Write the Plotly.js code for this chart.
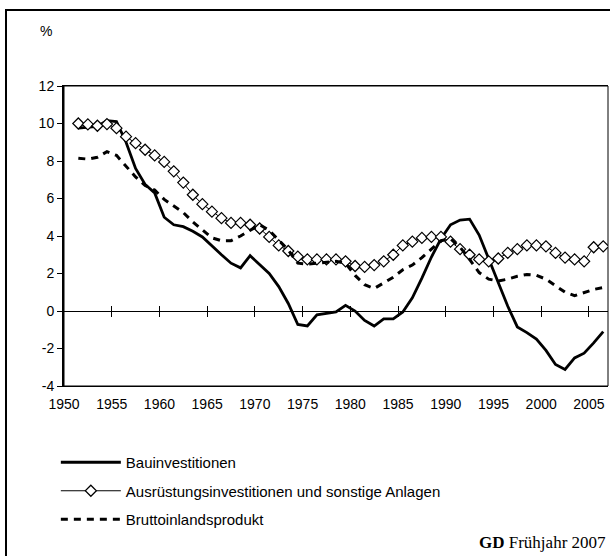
<!DOCTYPE html>
<html>
<head>
<meta charset="utf-8">
<script src="https://cdn.plot.ly/plotly-3.0.1.min.js"></script>
<style>
  html, body { margin: 0; padding: 0; background: #fff; }
  #wrap { position: relative; width: 610px; height: 556px; overflow: hidden; }
  #chart { position: absolute; left: 0; top: 0; width: 610px; height: 556px; }
  #frame { position: absolute; left: 5px; top: 9px; width: 620px; height: 560px;
           border-left: 2.5px solid #000; border-top: 2.5px solid #000; pointer-events: none; }
</style>
</head>
<body>
<div id="wrap">
  <div id="chart"></div>
  <div id="frame"></div>
</div>
<script>
// ---- data ----
const years = [1951,1952,1953,1954,1955,1956,1957,1958,1959,1960,
               1961,1962,1963,1964,1965,1966,1967,1968,1969,1970,
               1971,1972,1973,1974,1975,1976,1977,1978,1979,1980,
               1981,1982,1983,1984,1985,1986,1987,1988,1989,1990,
               1991,1992,1993,1994,1995,1996,1997,1998,1999,2000,
               2001,2002,2003,2004,2005,2006];

const bauinvestitionen = [9.75,9.8,9.85,10.15,10.1,9.0,7.6,6.75,6.3,5.0,
                          4.6,4.5,4.25,3.95,3.45,3.0,2.55,2.3,2.95,2.5,
                          2.0,1.3,0.4,-0.72,-0.8,-0.2,-0.12,-0.05,0.3,0.0,
                          -0.5,-0.8,-0.42,-0.42,-0.05,0.7,1.75,2.88,3.85,4.6,
                          4.85,4.9,4.05,2.75,1.5,0.25,-0.85,-1.15,-1.5,-2.1,
                          -2.85,-3.12,-2.5,-2.25,-1.7,-1.1];

const ausruestung = [10.0,9.95,9.88,9.97,9.75,9.3,8.95,8.6,8.3,7.95,
                     7.45,6.85,6.2,5.7,5.3,4.95,4.7,4.7,4.6,4.4,
                     3.95,3.5,3.2,2.9,2.75,2.75,2.75,2.75,2.65,2.4,
                     2.35,2.45,2.65,3.0,3.5,3.7,3.9,3.95,3.95,3.7,
                     3.3,3.0,2.75,2.65,2.8,3.1,3.3,3.5,3.5,3.45,
                     3.1,2.85,2.75,2.65,3.4,3.45];

const bip = [8.15,8.1,8.2,8.5,8.3,7.7,7.15,6.7,6.45,5.95,
             5.6,5.25,4.75,4.3,3.9,3.75,3.75,4.0,4.3,4.6,
             4.3,3.8,3.25,2.55,2.5,2.55,2.6,2.65,2.55,1.9,
             1.4,1.2,1.5,1.8,2.2,2.45,2.85,3.3,3.75,3.85,
             3.4,2.75,2.05,1.7,1.6,1.7,1.85,1.95,1.9,1.7,
             1.35,1.0,0.82,1.0,1.15,1.25];

const seriesNames = ["Bauinvestitionen",
                     "Ausrüstungsinvestitionen und sonstige Anlagen",
                     "Bruttoinlandsprodukt"];
const tickYears = [1950,1955,1960,1965,1970,1975,1980,1985,1990,1995,2000,2005];
const yTicks = [-4,-2,0,2,4,6,8,10,12];
const unitLabel = "%";
const sourceLabel = "<b>GD</b> Frühjahr 2007";

// ---- chart ----
const FONT = "Liberation Sans, Arial, Helvetica, sans-serif";
// category-style axis: labels sit on the boundary before each year
const tickPos = tickYears.map(y => y - 0.5);
const crossTicks = tickPos.slice(1);
const yMin = yTicks[0], yMax = yTicks[yTicks.length - 1];
const zeroPos = (0 - yMin) / (yMax - yMin);

const traces = [
  { x: years, y: bauinvestitionen, name: seriesNames[0], type: "scatter", mode: "lines",
    line: { color: "#000", width: 2.8 }, legendgroup: "a" },
  { x: years, y: ausruestung, name: seriesNames[1], type: "scatter", mode: "lines+markers",
    line: { color: "#000", width: 1 },
    marker: { symbol: "diamond", size: 8.5, color: "#fff", line: { color: "#000", width: 1.2 } },
    legendgroup: "b" },
  { x: years, y: bip, name: seriesNames[2], type: "scatter", mode: "lines",
    line: { color: "#000", width: 3, dash: "7px,6px" }, legendgroup: "c" },
  // helpers so the crossing tick axes at y = 0 are drawn
  { x: [years[0]], y: [0], xaxis: "x2", yaxis: "y", mode: "markers",
    marker: { opacity: 0 }, showlegend: false, hoverinfo: "skip" },
  { x: [years[0]], y: [0], xaxis: "x3", yaxis: "y", mode: "markers",
    marker: { opacity: 0 }, showlegend: false, hoverinfo: "skip" }
];

const xRange = [tickPos[0], years[years.length - 1] + 0.5];

const layout = {
  width: 610, height: 556,
  margin: { l: 64, r: 2, t: 86, b: 170 },
  paper_bgcolor: "#fff", plot_bgcolor: "#fff",
  font: { family: FONT, size: 14, color: "#000" },
  showlegend: true,
  legend: {
    x: -0.015, y: -0.2, xanchor: "left", yanchor: "top",
    font: { family: FONT, size: 15, color: "#000" },
    bgcolor: "rgba(0,0,0,0)", tracegroupgap: 6, itemwidth: 60,
    orientation: "v"
  },
  xaxis: {
    range: xRange, tickvals: tickPos, ticktext: tickYears.map(String),
    ticks: "", showgrid: false, zeroline: false,
    showline: true, linecolor: "#000", linewidth: 1, mirror: true,
    tickfont: { family: FONT, size: 14 }, ticklabelstandoff: 5
  },
  xaxis2: {
    overlaying: "x", anchor: "free", position: zeroPos, range: xRange,
    tickvals: crossTicks, ticks: "outside", ticklen: 5, tickwidth: 1, tickcolor: "#000",
    showticklabels: false, showline: false, showgrid: false, zeroline: false
  },
  xaxis3: {
    overlaying: "x", anchor: "free", position: zeroPos, range: xRange,
    tickvals: crossTicks, ticks: "inside", ticklen: 5, tickwidth: 1, tickcolor: "#000",
    showticklabels: false, showline: false, showgrid: false, zeroline: false
  },
  yaxis: {
    range: [yMin, yMax], tickvals: yTicks, ticktext: yTicks.map(String),
    ticks: "outside", ticklen: 5, tickwidth: 1, tickcolor: "#000",
    showline: true, linecolor: "#000", linewidth: 2, mirror: false,
    showgrid: false, zeroline: true, zerolinecolor: "#000", zerolinewidth: 1,
    tickfont: { family: FONT, size: 14 }
  },
  shapes: [
    { type: "rect", xref: "paper", yref: "paper", x0: 0, x1: 1, y0: 0, y1: 1,
      line: { color: "#000", width: 1 }, layer: "below" }
  ],
  annotations: [
    { text: unitLabel, xref: "paper", yref: "paper", x: -0.033, y: 1.183,
      xanchor: "center", yanchor: "middle", showarrow: false,
      font: { family: FONT, size: 14 } },
    { text: sourceLabel, xref: "paper", yref: "paper", x: 1.0, y: -0.52,
      xanchor: "right", yanchor: "middle", showarrow: false,
      font: { family: "Liberation Serif, Times New Roman, serif", size: 17 } }
  ]
};

Plotly.newPlot("chart", traces, layout, { staticPlot: true, displayModeBar: false });
</script>
</body>
</html>
